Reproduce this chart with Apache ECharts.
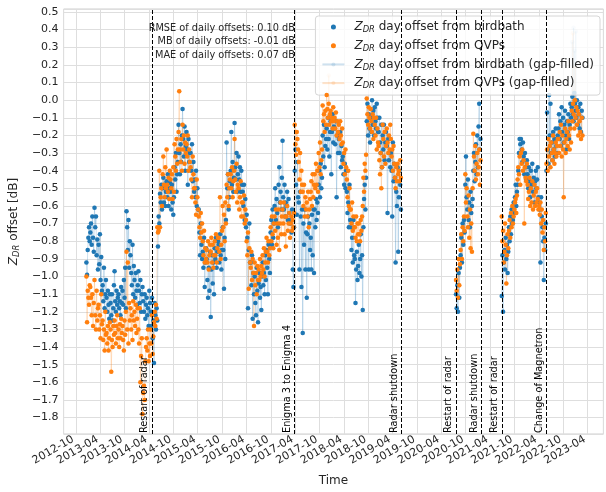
<!DOCTYPE html>
<html>
<head>
<meta charset="utf-8">
<script src="https://cdn.jsdelivr.net/npm/echarts@6/dist/echarts.min.js"></script>
<style>
html, body { margin: 0; padding: 0; background: #fff; }
#chart { width: 606px; height: 492px; }
</style>
</head>
<body>
<div id="chart"></div>
<script>
// Daily ZDR offsets, sampled every 5 days within each continuous operating period.
const stepDays = 5;
const segmentStarts = ['2012-12-20', '2020-07-20', '2021-06-27'];

const birdbathSeg1 = [
  -0.92,-0.99,-0.85,-0.78,-0.72,-0.80, -0.75,-0.70,-0.82,-0.66,-0.78,-0.86,
  -0.61,-0.72,-0.66,-0.88,-0.79,-0.96, -0.82,-0.93,-0.76,-1.02,-0.89,-1.08,
  -1.05,-1.14,-0.95,-1.18,-1.10,-1.02, -1.12,-1.20,-1.08,-1.16,-1.24,-1.10,
  -1.15,-1.22,-1.10,-1.25,-1.18,-1.05, -0.97,-1.14,-1.20,-1.08,-1.16,-1.12,
  -1.10,-1.18,-1.14,-1.22,-1.06,-1.15, -1.08,-1.16,-1.02,-1.12,-0.95,-1.18,
  -0.63,-0.72,-0.85,-0.68,-0.95,-0.80, -0.88,-0.98,-1.05,-0.82,-1.10,-0.94,
  -1.02,-1.12,-0.98,-1.08,-1.16,-1.05, -0.97,-1.08,-1.15,-1.02,-1.20,-1.10,
  -1.06,-1.14,-1.20,-1.10,-1.24,-1.16, -1.12,-1.22,-1.18,-1.28,-1.08,-1.15,
  -1.20,-1.28,-1.12,-1.35,-1.25,-1.49, -1.15,-1.22,-1.30,-1.18,-1.25,-0.83,
  -0.66,-0.70,-0.53,-0.58,-0.48,-0.62, -0.50,-0.44,-0.58,-0.48,-0.60,-0.52,
  -0.46,-0.55,-0.42,-0.60,-0.50,-0.47, -0.52,-0.62,-0.48,-0.58,-0.65,-0.55,
  -0.38,-0.45,-0.30,-0.52,-0.42,-0.35, -0.14,-0.30,-0.42,-0.25,-0.35,-0.20,
  -0.05,-0.22,-0.32,-0.15,-0.40,-0.26, -0.18,-0.28,-0.48,-0.22,-0.35,-0.30,
  -0.30,-0.40,-0.25,-0.46,-0.35,-0.52, -0.45,-0.55,-0.40,-0.60,-0.50,-0.62,
  -0.62,-0.75,-0.88,-0.70,-0.82,-0.90, -0.86,-0.95,-0.78,-1.06,-0.92,-0.84,
  -0.90,-1.02,-1.12,-0.95,-1.08,-0.86, -1.23,-0.96,-0.88,-1.04,-0.92,-1.10,
  -0.84,-0.90,-0.78,-0.95,-0.86,-0.80, -0.82,-0.92,-0.76,-0.88,-0.96,-0.85,
  -0.72,-0.85,-1.07,-0.78,-0.90,-0.68, -0.24,-0.50,-0.42,-0.62,-0.55,-0.46,
  -0.40,-0.18,-0.48,-0.35,-0.52,-0.44, -0.13,-0.38,-0.45,-0.30,-0.52,-0.42,
  -0.32,-0.45,-0.38,-0.52,-0.40,-0.48, -0.52,-0.60,-0.48,-0.68,-0.56,-0.72,
  -0.65,-0.78,-1.18,-0.85,-0.70,-0.92, -0.92,-1.05,-0.88,-1.24,-0.98,-1.10,
  -1.00,-1.15,-1.22,-0.95,-1.08,-1.26, -1.04,-0.98,-1.12,-1.06,-1.19,-1.00,
  -0.92,-1.05,-0.98,-1.10,-0.88,-1.02, -0.85,-0.95,-1.10,-0.82,-0.90,-0.98,
  -0.75,-0.68,-0.82,-0.62,-0.78,-0.70, -0.60,-0.50,-0.68,-0.56,-0.64,-0.72,
  -0.48,-0.38,-0.58,-0.52,-0.62,-0.44, -0.23,-0.55,-0.62,-0.48,-0.66,-0.58,
  -0.60,-0.52,-0.68,-0.56,-0.64,-0.70, -0.68,-0.75,-0.62,-0.96,-1.06,-0.72,
  -0.40,-0.28,-0.48,-0.65,-0.35,-0.55, -0.58,-0.96,-0.52,-0.66,-1.06,-0.62,
  -1.32,-0.70,-0.82,-0.62,-0.96,-0.75, -1.12,-0.76,-0.66,-0.96,-0.70,-0.85,
  -0.78,-0.96,-0.65,-0.88,-0.62,-0.98, -0.62,-0.72,-0.56,-0.68,-0.58,-0.64,
  -0.48,-0.40,-0.55,-0.36,-0.50,-0.44, -0.20,-0.32,-0.14,-0.38,-0.26,-0.22,
  -0.16,-0.28,-0.10,-0.22,-0.32,-0.18, -0.12,-0.42,-0.18,-0.08,-0.24,-0.15,
  -0.16,-0.25,-0.12,-0.55,-0.20,-0.30, -0.22,-0.30,-0.18,-0.38,-0.26,-0.34,
  -0.32,-0.42,-0.48,-0.36,-0.50,-0.40, -0.52,-0.64,-0.58,-0.72,-0.48,-0.68,
  -0.72,-0.85,-0.78,-0.92,-0.68,-0.88, -0.90,-1.15,-0.96,-0.86,-1.02,-0.94,
  -0.82,-0.98,-0.90,-0.76,-1.00,-0.88, -1.19,-0.72,-0.56,-0.48,-0.62,-0.44,
  -0.12,-0.02,-0.20,-0.08,-0.16,-0.24, -0.10,-0.18, 0.00,-0.14,-0.06,-0.20,
  -0.04,-0.12,-0.16,-0.02,-0.10,-0.18, -0.18,-0.10,-0.24,-0.30,-0.14,-0.38,
  -0.20,-0.28,-0.14,-0.34,-0.24,-0.18, -0.26,-0.64,-0.22,-0.34,-0.30,-0.38,
  -0.30,-0.40,-0.66,-0.24,-0.46,-0.36, -0.44,-0.92,-0.52,-0.60,-0.38,-0.86,
  -0.55,-0.40,-0.48,-0.62
];
const birdbathSeg2 = [
  -1.10,-1.18,-1.05,-1.20,-0.98,-1.12,-0.95,
  -0.88,-0.78,-0.92,-0.70,-0.82,-0.68,-0.75,
  -0.48,-0.32,-0.55,-0.62,-0.45,-0.68,-0.58,-0.72,-0.52,-0.64,-0.60,-0.56,
  -0.40,-0.30,-0.46,-0.35,-0.25,-0.42,-0.20,-0.38,-0.15,-0.02,-0.28,-0.22
];
const birdbathSeg3 = [
  -1.11,-0.88,-1.20,-0.92,-0.85,-0.96,-0.78,-0.90,-0.82,-0.98,-0.86,
  -0.72,-0.80,-0.66,-0.76,-0.62,-0.70,-0.68,-0.58,-0.64,-0.55,-0.48,-0.60,-0.52,
  -0.48,-0.40,-0.30,-0.22,-0.25,-0.22,-0.28,-0.35,-0.24,-0.32,-0.42,-0.30,-0.38,-0.45,-0.34,
  -0.42,-0.50,-0.38,-0.46,-0.55,-0.40,-0.48,-0.36,-0.52,-0.44,-0.58,-0.46,-0.40,-0.50,-0.45,-0.38,-0.55,
  -0.58,-0.62,-0.92,-0.55,-0.66,-0.72,-0.80,-1.02,-0.78,-0.85,-0.70,
  -0.40,-0.07,-0.28,-0.36, 0.03,-0.20,-0.02,-0.30,-0.24,-0.34,-0.18,-0.28,-0.22,-0.32,-0.16,-0.26,-0.30,-0.20,
  -0.16,-0.08,-0.22,-0.12,-0.26,-0.04,-0.18,-0.10,-0.24,-0.14,-0.06,-0.20,-0.28,-0.12,-0.18,-0.08,-0.22,-0.14,-0.02,-0.10,
  -0.04, 0.02,-0.08,-0.12, 0.04,-0.02,-0.06,-0.10, 0.00,-0.14,-0.04,-0.08,-0.16,-0.02,-0.18,-0.06,-0.10
];

const qvpSeg1 = [
  -1.00,-1.26,-1.08,-1.12,-1.16,-1.05, -1.06,-1.12,-1.22,-1.10,-1.28,-1.15,
  -1.02,-1.22,-1.30,-1.08,-1.25,-1.18, -1.16,-1.30,-1.22,-1.35,-1.10,-1.27,
  -1.25,-1.36,-1.30,-1.42,-1.20,-1.33, -1.32,-1.38,-1.28,-1.42,-1.35,-1.26,
  -1.30,-1.54,-1.36,-1.40,-1.28,-1.33, -1.25,-1.32,-1.38,-1.28,-1.22,-1.35,
  -1.30,-1.40,-1.27,-1.35,-1.24,-1.32, -1.28,-1.36,-1.42,-1.25,-1.33,-1.20,
  -0.86,-1.30,-0.92,-1.38,-1.15,-1.25, -1.18,-1.30,-1.22,-1.36,-1.14,-1.25,
  -1.20,-1.28,-1.16,-1.32,-1.24,-1.18, -1.30,-1.38,-1.18,-1.60,-1.45,-1.35,
  -1.78,-1.66,-1.62,-1.70,-1.48,-1.40, -1.35,-1.42,-1.30,-1.48,-1.38,-1.45,
  -1.30,-1.38,-1.22,-1.44,-1.34,-1.26, -1.20,-1.28,-1.16,-1.24,-0.72,-0.75,
  -0.74,-0.40,-0.72,-0.55,-0.50,-0.60, -0.42,-0.32,-0.48,-0.55,-0.38,-0.50,
  -0.28,-0.48,-0.52,-0.44,-0.56,-0.40, -0.45,-0.50,-0.42,-0.56,-0.38,-0.52,
  -0.25,-0.32,-0.40,-0.22,-0.36,-0.28, -0.18, 0.05,-0.28,-0.35,-0.22,-0.40,
  -0.14,-0.28,-0.20,-0.36,-0.24,-0.30, -0.25,-0.32,-0.20,-0.40,-0.28,-0.35,
  -0.38,-0.45,-0.55,-0.32,-0.42,-0.50, -0.50,-0.58,-0.65,-0.45,-0.55,-0.62,
  -0.66,-0.72,-0.78,-0.64,-0.75,-0.70, -0.80,-0.88,-0.74,-0.92,-0.84,-0.90,
  -0.85,-0.92,-0.80,-0.96,-0.88,-0.82, -0.86,-0.78,-0.92,-0.82,-0.95,-0.88,
  -0.80,-0.88,-0.76,-0.92,-0.84,-0.78, -0.78,-0.86,-0.55,-0.90,-0.82,-0.74,
  -0.60,-0.72,-0.65,-0.80,-0.58,-0.70, -0.48,-0.55,-0.42,-0.60,-0.50,-0.45,
  -0.42,-0.50,-0.38,-0.55,-0.46,-0.40, -0.22,-0.45,-0.52,-0.36,-0.58,-0.48,
  -0.50,-0.62,-0.55,-0.46,-0.66,-0.58, -0.58,-0.66,-0.54,-0.70,-0.62,-0.68,
  -0.80,-0.88,-0.75,-1.07,-0.84,-0.92, -0.95,-0.86,-1.02,-0.90,-0.98,-1.28,
  -0.92,-1.05,-0.98,-1.10,-0.94,-1.02, -0.96,-1.02,-0.90,-1.00,-0.94,-0.98,
  -0.88,-0.96,-0.84,-1.00,-0.92,-0.86, -0.78,-0.86,-0.92,-0.80,-0.88,-0.84,
  -0.72,-0.80,-0.66,-0.76,-0.84,-0.70, -0.66,-0.74,-0.62,-0.82,-0.70,-0.78,
  -0.62,-0.85,-0.70,-0.58,-0.76,-0.66, -0.62,-0.70,-0.58,-0.76,-0.66,-0.83,
  -0.66,-0.60,-0.74,-0.70,-0.64,-0.78, -0.70,-0.66,-0.74,-0.68,-0.72,-0.64,
  -0.14,-0.25,-0.31,-0.18,-0.22,-0.28, -0.35,-0.45,-0.30,-0.52,-0.40,-0.48,
  -0.52,-0.60,-0.48,-0.66,-0.55,-0.62, -0.58,-0.66,-0.52,-0.72,-0.62,-0.56,
  -0.52,-0.46,-0.60,-0.42,-0.55,-0.48, -0.42,-0.50,-0.36,-0.48,-0.40,-0.52,
  -0.30,-0.38,-0.24,-0.42,-0.34,-0.28, -0.03,-0.12,-0.08,-0.18,-0.06,-0.14,
   0.03,-0.05,-0.10,-0.02,-0.14,-0.08, -0.06,-0.12,-0.10,-0.16,-0.04,-0.12,
  -0.10,-0.16,-0.07,-0.20,-0.12,-0.18, -0.14,-0.22,-0.12,-0.20,-0.25,-0.16,
  -0.24,-0.36,-0.30,-0.42,-0.28,-0.38, -0.45,-0.55,-0.40,-0.60,-0.50,-0.62,
  -0.62,-0.70,-0.58,-0.74,-0.66,-0.72, -0.72,-0.78,-0.66,-0.80,-0.70,-0.76,
  -0.70,-0.76,-0.80,-0.68,-0.74,-0.66, -0.60,-0.44,-0.52,-0.36,-0.40,-0.31,
   0.01,-0.08,-0.14,-0.04,-0.10,-0.16, -0.05,-0.12,-0.18,-0.08,-0.22,-0.10,
  -0.14,-0.20,-0.10,-0.28,-0.16,-0.24, -0.26,-0.34,-0.42,-0.30,-0.50,-0.38,
  -0.14,-0.22,-0.32,-0.18,-0.36,-0.26, -0.16,-0.24,-0.30,-0.20,-0.28,-0.14,
  -0.22,-0.32,-0.28,-0.40,-0.26,-0.36, -0.44,-0.50,-0.38,-0.46,-0.36,-0.42,
  -0.40,-0.46,-0.34,-0.44
];
const qvpSeg2 = [
  -1.02,-1.08,-0.96,-1.12,-0.90,-1.05,-0.93,
  -0.85,-0.76,-0.90,-0.72,-0.80,-0.66,-0.74,
  -0.42,-0.58,-0.50,-0.66,-0.72,-0.54,-0.78,-0.62,-0.84,-0.70,-0.86,-0.50,
  -0.19,-0.32,-0.40,-0.26,-0.45,-0.36,-0.30,-0.42,-0.38,-0.28,-0.48,-0.34
];
const qvpSeg3 = [
  -0.66,-0.80,-0.74,-0.92,-0.86,-0.70,-0.82,-1.04,-0.88,-0.76,-0.84,
  -0.74,-0.68,-0.78,-0.64,-0.72,-0.60,-0.70,-0.66,-0.62,-0.58,-0.56,-0.64,-0.54,
  -0.45,-0.38,-0.42,-0.32,-0.48,-0.30,-0.36,-0.28,-0.40,-0.34,-0.70,-0.38,-0.44,-0.46,-0.36,
  -0.48,-0.56,-0.52,-0.44,-0.60,-0.50,-0.58,-0.46,-0.62,-0.54,-0.48,-0.60,-0.52,-0.58,-0.50,-0.56,-0.62,
  -0.60,-0.65,-0.58,-0.70,-0.62,-0.75,-0.68,-0.85,-0.72,-0.80,-0.64,
  -0.36,-0.28,-0.40,-0.22,-0.32,-0.26,-0.38,-0.24,-0.30,-0.34,-0.20,-0.28,-0.36,-0.30,-0.24,-0.32,-0.26,-0.22,
  -0.22,-0.30,-0.18,-0.26,-0.14,-0.32,-0.20,-0.28,-0.55,-0.24,-0.16,-0.30,-0.22,-0.18,-0.26,-0.12,-0.20,-0.28,-0.16,-0.24,
  -0.06,-0.12,-0.02,-0.08,-0.16, 0.00,-0.10,-0.04,-0.14,-0.06,-0.20,-0.08,-0.12,-0.18,-0.22,-0.10,-0.20
];

// Days that only exist in the gap-filled products
const birdbathFillExtra = [['2022-12-08', 0.33], ['2022-12-18', 0.41], ['2022-12-26', 0.28], ['2023-01-04', 0.39]];
const qvpFillExtra = [['2017-12-10', 0.14], ['2022-12-13', 0.38], ['2022-12-30', 0.19]];

// Radar events
const eventDates = ['2014-04-22', '2017-03-28', '2019-06-07', '2020-07-20', '2021-01-25', '2021-06-27', '2022-05-25'];
const eventLabels = ['Restart of radar', 'Enigma 3 to Enigma 4', 'Radar shutdown', 'Restart of radar',
                     'Radar shutdown', 'Restart of radar', 'Change of Magnetron'];

const statsLines = ['RMSE of daily offsets: 0.10 dB', 'MB of daily offsets: -0.01 dB', 'MAE of daily offsets: 0.07 dB'];

const seriesNames = [
  'ZDR day offset from birdbath',
  'ZDR day offset from QVPs',
  'ZDR day offset from birdbath (gap-filled)',
  'ZDR day offset from QVPs (gap-filled)'
];

const FONT = 'DejaVu Sans';
const BLUE = '#1f77b4', ORANGE = '#ff7f0e', INK = '#262626';

function parseDate(s) {
  const p = s.split('-').map(Number);
  return new Date(Date.UTC(p[0], p[1] - 1, p[2]));
}
// x coordinate: half-years since 2012-10-01, so April/October ticks fall on integers
function toAxis(date) {
  const y = date.getUTCFullYear(), m = date.getUTCMonth(), d = date.getUTCDate();
  const dim = new Date(Date.UTC(y, m + 1, 0)).getUTCDate();
  return ((y - 2012) * 12 + m - 9 + (d - 1) / dim) / 6;
}
function axisLabelText(v) {
  const months = 9 + 6 * Math.round(v);
  const y = 2012 + Math.floor(months / 12);
  const m = months % 12 + 1;
  return y + '-' + String(m).padStart(2, '0');
}
function segmentPoints(vals, s) {
  const start = parseDate(segmentStarts[s]).getTime();
  return vals.map((v, i) => [toAxis(new Date(start + i * stepDays * 86400000)), v]);
}
function buildPoints(segments) {
  return segments.flatMap((vals, s) => segmentPoints(vals, s));
}
function buildFilled(segments, extra) {
  const out = [];
  segments.forEach((vals, s) => {
    const seg = segmentPoints(vals, s);
    const lo = seg[0][0], hi = seg[seg.length - 1][0] + 0.05;
    extra.forEach(([ds, v]) => {
      const x = toAxis(parseDate(ds));
      if (x >= lo && x <= hi) seg.push([x, v]);
    });
    seg.sort((a, b) => a[0] - b[0]);
    if (out.length) out.push([(out[out.length - 1][0] + seg[0][0]) / 2, null]);
    out.push(...seg);
  });
  return out;
}

const birdbathPts = buildPoints([birdbathSeg1, birdbathSeg2, birdbathSeg3]);
const qvpPts = buildPoints([qvpSeg1, qvpSeg2, qvpSeg3]);
const birdbathFilled = buildFilled([birdbathSeg1, birdbathSeg2, birdbathSeg3], birdbathFillExtra);
const qvpFilled = buildFilled([qvpSeg1, qvpSeg2, qvpSeg3], qvpFillExtra);

const richZ = {
  z: { fontFamily: FONT, fontStyle: 'italic', fontSize: 12, lineHeight: 14, color: INK },
  s: { fontFamily: FONT, fontStyle: 'italic', fontSize: 8.4, lineHeight: 8, verticalAlign: 'bottom', color: INK },
  t: { fontFamily: FONT, fontSize: 12, lineHeight: 14, color: INK }
};
function zdrText(name) {
  return '{z|Z}{s|DR}{t|' + name.replace(/^ZDR/, '') + '}';
}

const chart = echarts.init(document.getElementById('chart'), null, { renderer: 'canvas' });
chart.setOption({
  animation: false,
  backgroundColor: '#fff',
  textStyle: { fontFamily: FONT },
  grid: { left: 58, top: 9, right: 1, bottom: 52, show: true, borderColor: '#cfcfcf', borderWidth: 1 },
  xAxis: {
    type: 'value', min: -0.5, max: 21.65, minInterval: 1, maxInterval: 1, splitNumber: 22,
    axisLine: { show: false }, axisTick: { show: false },
    splitLine: { show: true, lineStyle: { color: '#dedede', width: 1 } },
    axisLabel: {
      rotate: 30, margin: 3, padding: [0, 3, 0, 0], fontSize: 11, color: INK, fontFamily: FONT,
      formatter: v => Math.abs(v - Math.round(v)) > 1e-6 ? '' : axisLabelText(v)
    },
    name: 'Time', nameLocation: 'middle', nameGap: 41,
    nameTextStyle: { fontSize: 12, color: INK, fontFamily: FONT }
  },
  yAxis: {
    type: 'value', min: -1.893, max: 0.517, minInterval: 0.1, maxInterval: 0.1, splitNumber: 24,
    axisLine: { show: false }, axisTick: { show: false },
    splitLine: { show: true, lineStyle: { color: '#dedede', width: 1 } },
    axisLabel: {
      margin: 5, fontSize: 11, color: INK, fontFamily: FONT,
      formatter: v => {
        const r = Math.round(v * 10);
        if (Math.abs(v * 10 - r) > 1e-6) return '';
        return (r / 10).toFixed(1).replace('-', '\u2212');
      }
    },
    name: '{z|Z}{s|DR}{t| offset [dB]}', nameLocation: 'middle', nameGap: 35,
    nameTextStyle: { rich: richZ }
  },
  legend: {
    orient: 'vertical', right: 6, top: 16,
    itemWidth: 22, itemHeight: 5, itemGap: 5.7,
    padding: [5, 6, 5, 6],
    backgroundColor: 'rgba(255,255,255,0.8)', borderColor: '#d6d6d6', borderWidth: 1, borderRadius: 3,
    textStyle: { padding: [0, 0, 0, 5], rich: richZ },
    formatter: zdrText,
    data: [
      { name: seriesNames[0], icon: 'circle' },
      { name: seriesNames[1], icon: 'circle' },
      { name: seriesNames[2] },
      { name: seriesNames[3] }
    ]
  },
  graphic: statsLines.map((t, i) => ({
    type: 'text', right: 311, top: 23 + i * 13.7, z: 50,
    style: { text: t, fontSize: 9.75, fontFamily: FONT, fill: INK, textAlign: 'right' }
  })),
  series: [
    {
      name: seriesNames[2], type: 'line', data: birdbathFilled, z: 1,
      symbol: 'circle', symbolSize: 4.5, showSymbol: true, connectNulls: false,
      lineStyle: { color: BLUE, width: 1, opacity: 0.22 },
      itemStyle: { color: BLUE, opacity: 0.15 }
    },
    {
      name: seriesNames[3], type: 'line', data: qvpFilled, z: 1,
      symbol: 'circle', symbolSize: 4.5, showSymbol: true, connectNulls: false,
      lineStyle: { color: ORANGE, width: 1, opacity: 0.22 },
      itemStyle: { color: ORANGE, opacity: 0.15 }
    },
    {
      name: seriesNames[0], type: 'scatter', data: birdbathPts, z: 3,
      symbolSize: 4.5, itemStyle: { color: BLUE, opacity: 1 },
      markLine: {
        silent: true, symbol: ['none', 'none'], animation: false,
        lineStyle: { color: '#000', type: [4, 2], width: 1 },
        label: {
          show: true, position: 'insideStartTop', distance: [1, 2],
          formatter: p => p.name, fontSize: 9.75, fontFamily: FONT, color: '#000'
        },
        data: eventDates.map((d, i) => ({ name: eventLabels[i], xAxis: toAxis(parseDate(d)) }))
      }
    },
    {
      name: seriesNames[1], type: 'scatter', data: qvpPts, z: 4,
      symbolSize: 4.5, itemStyle: { color: ORANGE, opacity: 1 }
    }
  ]
});
</script>
</body>
</html>
